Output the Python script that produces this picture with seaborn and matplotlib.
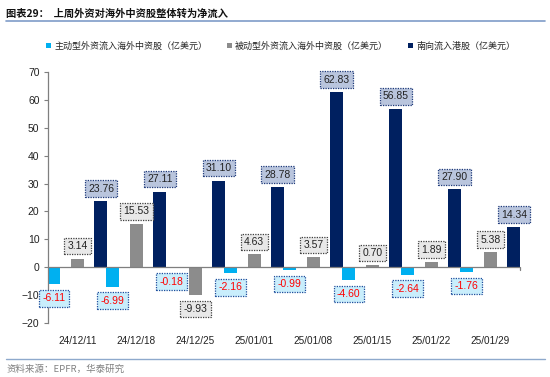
import pandas as pd
import seaborn as sns
import matplotlib.pyplot as plt
from matplotlib.patches import Patch
from matplotlib.lines import Line2D

# Data
DATES = ["24/12/11", "24/12/18", "24/12/25", "25/01/01",
         "25/01/08", "25/01/15", "25/01/22", "25/01/29"]
ACTIVE = [-6.11, -6.99, -0.18, -2.16, -0.99, -4.60, -2.64, -1.76]
PASSIVE = [3.14, 15.53, -9.93, 4.63, 3.57, 0.70, 1.89, 5.38]
SOUTHBOUND = [23.76, 27.11, 31.10, 28.78, 62.83, 56.85, 27.90, 14.34]

SERIES = ["主动型外资流入海外中资股（亿美元）",
          "被动型外资流入海外中资股（亿美元）",
          "南向流入港股（亿美元）"]
COLORS = ["#00B0F0", "#8C8C8C", "#002060"]
# label box styles: (face, edge, text)
LABEL_STYLE = [("#C9EEFC", "#1F4E9C", "#FF0000"),
               ("#E8E8E8", "#404040", "#222222"),
               ("#B9C5DD", "#1F3A7A", "#222222")]


def main():
    df = pd.DataFrame({
        "date": DATES * 3,
        "series": [s for s in SERIES for _ in DATES],
        "value": ACTIVE + PASSIVE + SOUTHBOUND,
    })

    sns.set_theme(style="white")
    plt.rcParams["font.family"] = ["Liberation Sans", "Noto Sans CJK SC"]

    fig = plt.figure(figsize=(5.5, 3.77), dpi=100)
    ax = fig.add_axes([0.087, 0.143, 0.858, 0.666])

    sns.barplot(data=df, x="date", y="value", hue="series", order=DATES,
                hue_order=SERIES, palette=COLORS, width=1.2, gap=0.45,
                saturation=1, legend=False, linewidth=0, errorbar=None, ax=ax)

    # value labels
    for cont, (fc, ec, tc) in zip(ax.containers, LABEL_STYLE):
        for bar in cont:
            v = bar.get_height()
            x = bar.get_x() + bar.get_width() / 2
            off = 9 if v >= 0 else -10
            ax.annotate(f"{v:.2f}", (x, v), xytext=(0, off),
                        textcoords="offset points", ha="center", va="center",
                        fontsize=7.5, color=tc, zorder=5,
                        bbox=dict(boxstyle="square,pad=0.32", fc=fc, ec=ec,
                                  ls=(0, (1, 1)), lw=0.9))

    ax.set_ylim(-20, 70)
    ax.set_xlim(-0.5, 7.5)
    ax.set_yticks(range(-20, 71, 10))
    ax.set_xlabel("")
    ax.set_ylabel("")
    ax.axhline(0, color="#7F7F7F", lw=0.9, zorder=3)
    ax.plot([7.5, 7.5], [0, -1.0], color="#7F7F7F", lw=0.9, clip_on=False)
    for s in ["top", "right", "bottom"]:
        ax.spines[s].set_visible(False)
    ax.spines["left"].set_color("#7F7F7F")
    ax.spines["left"].set_linewidth(0.9)
    ax.tick_params(axis="y", left=True, length=3, width=0.8, color="#7F7F7F",
                   labelsize=7.5, pad=3, labelcolor="#222222")
    ax.tick_params(axis="x", bottom=False, labelsize=7.2, pad=3,
                   labelcolor="#222222")
    ax.grid(False)

    # legend
    handles = [Patch(facecolor=c, edgecolor="none") for c in COLORS]
    fig.legend(handles, SERIES, loc="center", bbox_to_anchor=(0.51, 0.878),
               ncol=3, frameon=False, fontsize=6.5, handlelength=0.6,
               handleheight=0.6, handletextpad=0.3, columnspacing=2.2)

    # title, rules, source
    fig.text(0.010, 0.963, "图表29：  上周外资对海外中资股整体转为净流入",
             fontsize=7.4, fontweight="bold", color="#111111", va="center",
             family=["Noto Sans CJK SC"])
    fig.add_artist(Line2D([0.01, 0.99], [0.943, 0.943], color="#7F9CC8",
                          lw=1.2, transform=fig.transFigure))
    fig.add_artist(Line2D([0.01, 0.99], [0.047, 0.047], color="#8EA9CC",
                          lw=1.0, transform=fig.transFigure))
    fig.text(0.012, 0.022, "资料来源：EPFR，华泰研究", fontsize=6.8,
             color="#808080", va="center", family=["Noto Sans CJK SC", "Liberation Sans"])

    fig.savefig("out.png", dpi=100)


if __name__ == "__main__":
    main()
